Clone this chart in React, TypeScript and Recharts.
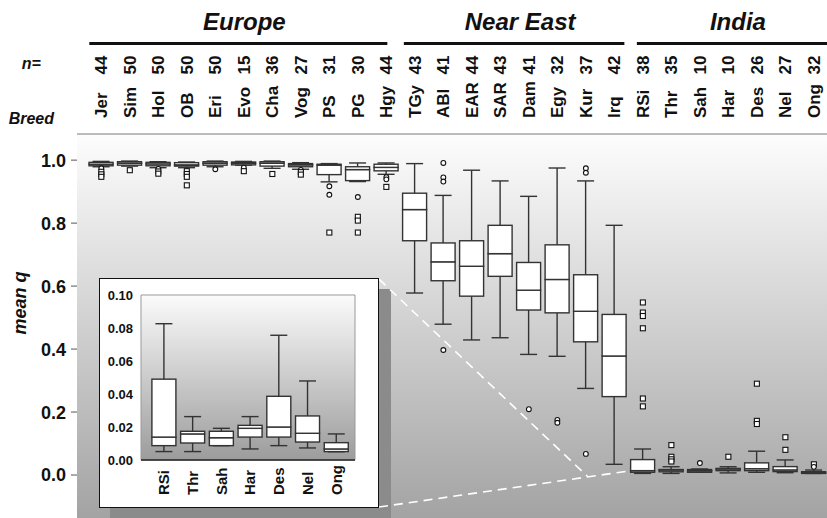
import React from "react";
import {
  ComposedChart,
  Bar,
  Scatter,
  XAxis,
  YAxis,
  ReferenceArea,
  ReferenceLine,
} from "recharts";

// ---- data ----
const breeds = [
  "Jer", "Sim", "Hol", "OB", "Eri", "Evo", "Cha", "Vog", "PS", "PG", "Hgy",
  "TGy", "ABl", "EAR", "SAR", "Dam", "Egy", "Kur", "Irq",
  "RSi", "Thr", "Sah", "Har", "Des", "Nel", "Ong",
];
const nCounts = [44, 50, 50, 50, 50, 15, 36, 27, 31, 30, 44, 43, 41, 44, 43, 41, 32, 37, 42, 38, 35, 10, 10, 26, 27, 32];

const regionNames = ["Europe", "Near East", "India"];
const regionSizes = [11, 8, 7];

const mins = [
  0.979, 0.981, 0.976, 0.976, 0.979, 0.984, 0.974, 0.971, 0.931, 0.932, 0.955,
  0.578, 0.479, 0.429, 0.436, 0.383, 0.377, 0.275, 0.034,
  0.0051, 0.0051, 0.0087, 0.0067, 0.0087, 0.0073, 0.005,
];
const q1s = [
  0.982, 0.984, 0.982, 0.981, 0.984, 0.985, 0.981, 0.979, 0.954, 0.935, 0.966,
  0.744, 0.617, 0.568, 0.631, 0.524, 0.515, 0.423, 0.249,
  0.0087, 0.0103, 0.0087, 0.0139, 0.0139, 0.0109, 0.0051,
];
const medians = [
  0.987, 0.99, 0.988, 0.985, 0.99, 0.99, 0.99, 0.985, 0.984, 0.97, 0.977,
  0.843, 0.677, 0.663, 0.703, 0.587, 0.621, 0.52, 0.378,
  0.0139, 0.0158, 0.0135, 0.0192, 0.02, 0.0162, 0.0067,
];
const q3s = [
  0.993, 0.995, 0.993, 0.992, 0.995, 0.994, 0.995, 0.989, 0.987, 0.979, 0.987,
  0.895, 0.737, 0.744, 0.793, 0.675, 0.731, 0.636, 0.51,
  0.049, 0.0174, 0.0174, 0.021, 0.0386, 0.0267, 0.0105,
];
const maxes = [
  0.996, 0.997, 0.995, 0.994, 0.997, 0.996, 0.997, 0.992, 0.989, 0.991, 0.991,
  0.989, 0.888, 0.968, 0.934, 0.885, 0.975, 0.934, 0.793,
  0.0826, 0.0263, 0.0192, 0.0263, 0.0756, 0.0479, 0.0158,
];

// [breed index, value, "c" circle | "s" square]
const outliers: [number, number, string][] = [
  [0, 0.974, "c"], [0, 0.963, "s"], [0, 0.955, "s"], [0, 0.947, "s"],
  [1, 0.968, "s"],
  [2, 0.972, "c"], [2, 0.964, "s"], [2, 0.957, "s"],
  [3, 0.965, "s"], [3, 0.956, "s"], [3, 0.947, "s"], [3, 0.92, "s"],
  [4, 0.971, "c"],
  [5, 0.976, "c"], [5, 0.965, "s"],
  [6, 0.956, "s"],
  [7, 0.969, "c"], [7, 0.962, "s"], [7, 0.954, "s"],
  [8, 0.917, "c"], [8, 0.89, "c"], [8, 0.77, "s"],
  [9, 0.883, "c"], [9, 0.82, "s"], [9, 0.808, "s"], [9, 0.77, "s"],
  [10, 0.946, "c"], [10, 0.939, "c"], [10, 0.915, "s"],
  [12, 0.991, "c"], [12, 0.945, "c"], [12, 0.932, "c"], [12, 0.397, "c"],
  [15, 0.209, "c"],
  [16, 0.175, "c"], [16, 0.166, "c"],
  [17, 0.974, "c"], [17, 0.96, "c"], [17, 0.067, "c"],
  [19, 0.548, "s"], [19, 0.516, "s"], [19, 0.505, "s"], [19, 0.466, "s"], [19, 0.243, "s"], [19, 0.218, "s"],
  [20, 0.095, "s"], [20, 0.058, "s"], [20, 0.05, "s"], [20, 0.043, "s"],
  [21, 0.038, "c"],
  [22, 0.058, "s"],
  [23, 0.29, "s"], [23, 0.172, "s"], [23, 0.162, "s"],
  [24, 0.12, "s"], [24, 0.08, "s"],
  [25, 0.034, "s"], [25, 0.026, "c"],
];

const mainTicks = [0, 0.2, 0.4, 0.6, 0.8, 1.0];
const insetTicks = [0, 0.02, 0.04, 0.06, 0.08, 0.1];

// ---- derived tables ----
const boxRow = (i: number, x: number) => ({
  i: x,
  base: mins[i],
  lw: q1s[i] - mins[i],
  lb: medians[i] - q1s[i],
  ub: q3s[i] - medians[i],
  uw: maxes[i] - q3s[i],
});
const rows = breeds.map((_, i) => boxRow(i, i));
const outlierRows = outliers.map(([i, v, kind]) => ({ i, v, kind }));

const regionOf: number[] = [];
const regionFirst: number[] = [];
regionSizes.forEach((size, r) => {
  regionFirst.push(regionOf.length);
  for (let k = 0; k < size; k++) regionOf.push(r);
});
const indiaStart = regionFirst[2];
const indiaBreeds = breeds.slice(indiaStart);
const insetRows = indiaBreeds.map((_, j) => boxRow(indiaStart + j, j));

// ---- layout ----
const FONT = "'Liberation Sans', Arial, Helvetica, sans-serif";
const W = 827;
const H = 518;
const PLOT_LEFT = 77;
const XMIN = -0.853;
const XMAX = 25.46;
const YMIN = -0.1365;
const YMAX = 1.083;
const STEP = (W - PLOT_LEFT) / (XMAX - XMIN);
const regionLinePad = [[-12, 1], [-11, 10], [-6, 14]];
const STROKE = "#333";

const Whisker = (top: boolean) => (p: any) => {
  const { x, y, width, height } = p;
  if (x == null || y == null) return <g />;
  const t = Math.min(y, y + height);
  const h = Math.abs(height);
  const cx = x + width / 2;
  const capY = top ? t : t + h;
  return (
    <g>
      <line x1={cx} x2={cx} y1={t} y2={t + h} stroke={STROKE} strokeWidth={1.4} />
      <line x1={cx - 8.5} x2={cx + 8.5} y1={capY} y2={capY} stroke={STROKE} strokeWidth={1.4} />
    </g>
  );
};
const BoxPart = (p: any) => {
  const { x, y, width, height } = p;
  if (x == null || y == null) return <g />;
  const t = Math.min(y, y + height);
  return <rect x={x} y={t} width={width} height={Math.abs(height)} fill="#fff" stroke={STROKE} strokeWidth={1.4} />;
};
const Outlier = (p: any) => {
  const { cx, cy, payload } = p;
  if (payload.kind === "s")
    return <rect x={cx - 2.5} y={cy - 2.5} width={5} height={5} fill="#fff" stroke="#111" strokeWidth={1.1} />;
  return <circle cx={cx} cy={cy} r={2.4} fill="#fff" stroke="#111" strokeWidth={1.1} />;
};

const TopTick = (p: any) => {
  const { x, y, payload } = p;
  const i = payload.value as number;
  const r = regionOf[i];
  const isFirst = regionFirst[r] === i;
  const x0 = x + regionLinePad[r][0];
  const x1 = Math.min(W, x + (regionSizes[r] - 1) * STEP + regionLinePad[r][1]);
  const bold = { fontWeight: "bold", fill: "#111", fontFamily: FONT } as any;
  return (
    <g>
      <text transform={`translate(${x + 6},${y - 16}) rotate(-90)`} fontSize={17} {...bold}>
        {breeds[i]}
      </text>
      <text transform={`translate(${x + 6},${y - 69}) rotate(-90)`} textAnchor="middle" fontSize={17} {...bold}>
        {nCounts[i]}
      </text>
      {isFirst && (
        <g>
          <line x1={x0} x2={x1} y1={y - 90.5} y2={y - 90.5} stroke="#111" strokeWidth={3} />
          <text x={(x0 + x1) / 2 + 6} y={y - 104} textAnchor="middle" fontSize={24} fontStyle="italic" {...bold}>
            {regionNames[r]}
          </text>
        </g>
      )}
      {i === 0 && (
        <g>
          <text x={x - 70} y={y - 65} textAnchor="middle" fontSize={16} fontStyle="italic" {...bold}>n=</text>
          <text x={x - 70} y={y - 10} textAnchor="middle" fontSize={16} fontStyle="italic" {...bold}>Breed</text>
        </g>
      )}
    </g>
  );
};

const MainYTick = (p: any) => {
  const { x, y, payload } = p;
  const v = payload.value as number;
  return (
    <g>
      <text x={x} y={y} dy="0.36em" textAnchor="end" fontSize={18} fontWeight="bold" fill="#111" fontFamily={FONT}>
        {v.toFixed(1)}
      </text>
      {Math.abs(v - 0.6) < 1e-6 && (
        <text
          transform={`translate(${x - 46},${y + 17}) rotate(-90)`}
          textAnchor="middle"
          dy="0.36em"
          fontSize={18}
          fontWeight="bold"
          fontStyle="italic"
          fill="#111"
          fontFamily={FONT}
        >
          mean q
        </text>
      )}
    </g>
  );
};

const InsetXTick = (p: any) => {
  const { x, y, payload } = p;
  return (
    <text transform={`translate(${x + 5},${y + 35}) rotate(-90)`} fontSize={15} fontWeight="bold" fill="#111" fontFamily={FONT}>
      {indiaBreeds[payload.value]}
    </text>
  );
};

const boxSeries = (xId: string) => [
  <Bar key="b0" xAxisId={xId} dataKey="base" stackId="b" fill="transparent" barSize={24} isAnimationActive={false} />,
  <Bar key="b1" xAxisId={xId} dataKey="lw" stackId="b" barSize={24} shape={Whisker(false)} isAnimationActive={false} />,
  <Bar key="b2" xAxisId={xId} dataKey="lb" stackId="b" barSize={24} shape={BoxPart} isAnimationActive={false} />,
  <Bar key="b3" xAxisId={xId} dataKey="ub" stackId="b" barSize={24} shape={BoxPart} isAnimationActive={false} />,
  <Bar key="b4" xAxisId={xId} dataKey="uw" stackId="b" barSize={24} shape={Whisker(true)} isAnimationActive={false} />,
];

// inset shadow and the dashed "zoom" lines, in main-chart data units
const shadowArea = { x1: 0.305, x2: 10.163, y1: YMIN, y2: 0.5905 };
const zoomLines = [
  [{ x: 9.743, y: 0.622 }, { x: 17.075, y: -0.006 }],
  [{ x: 9.743, y: -0.1016 }, { x: 18.5, y: 0.0127 }],
];

export default function App() {
  return (
    <div style={{ position: "absolute", left: 0, top: 0, width: W, height: H, background: "#fff", fontFamily: FONT }}>
      <svg width={0} height={0} style={{ position: "absolute" }}>
        <defs>
          <linearGradient id="mainBg" x1="0" y1="0" x2="0" y2="1">
            <stop offset="0" stopColor="#fdfdfd" />
            <stop offset="1" stopColor="#a3a3a3" />
          </linearGradient>
          <linearGradient id="insetBg" x1="0" y1="0" x2="0" y2="1">
            <stop offset="0" stopColor="#fbfbfb" />
            <stop offset="1" stopColor="#9c9c9c" />
          </linearGradient>
        </defs>
      </svg>

      <div style={{ position: "absolute", left: 0, top: 0 }}>
        <ComposedChart width={W} height={H} data={rows} margin={{ top: 0, right: 0, bottom: 0, left: 0 }}>
          <XAxis
            xAxisId="top"
            orientation="top"
            type="number"
            dataKey="i"
            domain={[XMIN, XMAX]}
            ticks={rows.map((r) => r.i)}
            interval={0}
            height={134}
            tick={<TopTick />}
            tickSize={0}
            tickMargin={0}
            axisLine={false}
            tickLine={false}
            allowDataOverflow
          />
          <YAxis
            type="number"
            domain={[YMIN, YMAX]}
            ticks={mainTicks}
            width={PLOT_LEFT}
            tick={<MainYTick />}
            tickSize={6}
            tickMargin={5}
            axisLine={false}
            tickLine={{ stroke: "#555" }}
            allowDataOverflow
          />
          <ReferenceArea xAxisId="top" x1={XMIN} x2={XMAX} y1={YMIN} y2={YMAX} fill="url(#mainBg)" fillOpacity={1} stroke="none" ifOverflow="visible" />
          <ReferenceLine xAxisId="top" y={YMAX} stroke="#7a7a7a" strokeWidth={1.2} ifOverflow="visible" />
          <ReferenceArea xAxisId="top" {...shadowArea} fill="#8b8b8b" fillOpacity={1} stroke="none" ifOverflow="visible" />
          {zoomLines.map((seg, k) => (
            <ReferenceLine
              key={k}
              xAxisId="top"
              segment={seg}
              stroke="#fff"
              strokeWidth={1.6}
              strokeDasharray="9 6"
              ifOverflow="visible"
            />
          ))}
          {boxSeries("top")}
          <Scatter xAxisId="top" data={outlierRows} dataKey="v" shape={Outlier} isAnimationActive={false} />
        </ComposedChart>
      </div>

      {/* inset panel */}
      <div style={{ position: "absolute", left: 99, top: 278, width: 280, height: 230, background: "#fff" }}>
        <ComposedChart width={280} height={230} data={insetRows} margin={{ top: 17, right: 24, bottom: 0, left: 0 }}>
          <XAxis
            xAxisId="in"
            type="number"
            dataKey="i"
            domain={[-0.81, 6.64]}
            ticks={insetRows.map((r) => r.i)}
            interval={0}
            height={48}
            tick={<InsetXTick />}
            tickSize={0}
            tickMargin={0}
            axisLine={{ stroke: "#222", strokeWidth: 1.3 }}
            tickLine={false}
            allowDataOverflow
          />
          <YAxis
            type="number"
            domain={[0, 0.1]}
            ticks={insetTicks}
            width={42}
            tickFormatter={(v: number) => v.toFixed(2)}
            tick={{ fontSize: 13, fontWeight: "bold", fill: "#111", fontFamily: FONT }}
            tickSize={0}
            tickMargin={8}
            axisLine={false}
            tickLine={false}
            allowDataOverflow
          />
          <ReferenceArea xAxisId="in" x1={-0.81} x2={6.64} y1={0} y2={0.1} fill="url(#insetBg)" fillOpacity={1} stroke="#999" ifOverflow="visible" />
          {boxSeries("in")}
        </ComposedChart>
      </div>
      <div
        style={{
          position: "absolute",
          left: 99,
          top: 278,
          width: 280,
          height: 230,
          border: "1.5px solid #111",
          boxSizing: "border-box",
          pointerEvents: "none",
        }}
      />
    </div>
  );
}
